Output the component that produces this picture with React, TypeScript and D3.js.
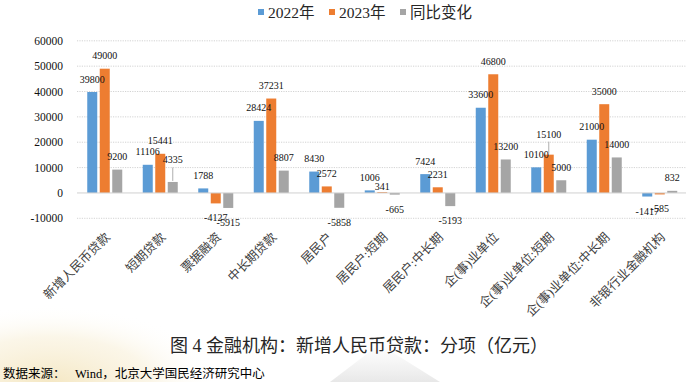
import React from "react";
import * as d3 from "d3";

const categories = [
  "新增人民币贷款",
  "短期贷款",
  "票据融资",
  "中长期贷款",
  "居民户",
  "居民户:短期",
  "居民户:中长期",
  "企(事)业单位",
  "企(事)业单位:短期",
  "企(事)业单位:中长期",
  "非银行业金融机构",
];
const seriesNames = ["2022年", "2023年", "同比变化"];
const values2022 = [39800, 11106, 1788, 28424, 8430, 1006, 7424, 33600, 10100, 21000, -1417];
const values2023 = [49000, 15441, -4127, 37231, 2572, 341, 2231, 46800, 15100, 35000, -585];
const valuesChange = [9200, 4335, -5915, 8807, -5858, -665, -5193, 13200, 5000, 14000, 832];
const yTicks = [-10000, 0, 10000, 20000, 30000, 40000, 50000, 60000];

// layout/styling (not data)
const W = 686;
const H = 382;
const COLORS = ["#5B9BD5", "#ED7D31", "#A5A5A5"];
const SERIF = "'Liberation Serif', 'DejaVu Serif', 'Noto Sans CJK SC', serif";
// manual label nudges (as in the source, some labels were dragged)
const NUDGE: Record<string, { dy: number; leader?: boolean }> = {
  "1-2": { dy: -9, leader: true },
  "5-1": { dy: 7.5 },
  "8-1": { dy: -7.5, leader: true },
};

export default function App() {
  const series = [values2022, values2023, valuesChange];
  const x = d3.scaleBand<string>().domain(categories).range([77, 687.5]).padding(0);
  const inner = d3
    .scaleBand<string>()
    .domain(seriesNames)
    .range([-17.5, 17.5])
    .paddingInner(0.2)
    .paddingOuter(0);
  const y = d3.scaleLinear().domain([-10000, 60000]).range([218.3, 40.8]);
  const y0 = y(0);

  const legendX = [258, 329, 400];

  return (
    <svg
      width={W}
      height={H}
      viewBox={`0 0 ${W} ${H}`}
      style={{ position: "absolute", left: 0, top: 0, background: "#fff" }}
    >
      <defs>
        <radialGradient id="wm" cx="0.5" cy="0.5" r="0.5">
          <stop offset="0%" stopColor="#f1dfae" stopOpacity={0.75} />
          <stop offset="60%" stopColor="#f6ebcc" stopOpacity={0.45} />
          <stop offset="100%" stopColor="#ffffff" stopOpacity={0} />
        </radialGradient>
        <linearGradient id="wm2" x1="0" y1="0" x2="0" y2="1">
          <stop offset="0%" stopColor="#e6e6e6" stopOpacity={0} />
          <stop offset="100%" stopColor="#d8d8d8" stopOpacity={0.6} />
        </linearGradient>
      </defs>
      <rect x={0} y={0} width={W} height={H} fill="#fff" />
      {/* faint background watermark */}
      <ellipse cx={50} cy={385} rx={170} ry={80} fill="url(#wm)" />
      <path d="M330,382 L372,350 L382,342 L392,352 L440,382 Z" fill="url(#wm2)" />

      {/* legend */}
      {seriesNames.map((s, i) => (
        <g key={s}>
          <rect x={legendX[i]} y={9} width={6} height={6} fill={COLORS[i]} />
          <text
            x={legendX[i] + 10}
            y={18}
            fontFamily={SERIF}
            fontSize={15.5}
            fill="#262626"
          >
            {s}
          </text>
        </g>
      ))}

      {/* gridlines */}
      {yTicks.map((t) => (
        <g key={t}>
          {t !== 0 && (
            <line
              x1={77}
              x2={686}
              y1={y(t)}
              y2={y(t)}
              stroke="#c8c8c8"
              strokeWidth={0.8}
              strokeDasharray="1.2 1.2"
            />
          )}
          <text
            x={63}
            y={y(t)}
            dy="0.35em"
            textAnchor="end"
            fontFamily={SERIF}
            fontSize={11.5}
            fill="#111"
          >
            {t}
          </text>
        </g>
      ))}

      {/* bars */}
      {categories.map((c, ci) => {
        const cx = (x(c) as number) + x.bandwidth() / 2;
        return (
          <g key={c}>
            {series.map((vals, si) => {
              const v = vals[ci];
              const bx = cx + (inner(seriesNames[si]) as number);
              const top = Math.min(y(v), y0);
              const h = Math.abs(y(v) - y0);
              return (
                <rect
                  key={si}
                  x={bx}
                  y={top}
                  width={inner.bandwidth()}
                  height={h}
                  fill={COLORS[si]}
                />
              );
            })}
          </g>
        );
      })}

      {/* zero line */}
      <line x1={77} x2={686} y1={y0} y2={y0} stroke="#d0d0d0" strokeWidth={1} />

      {/* data labels */}
      {categories.map((c, ci) => {
        const cx = (x(c) as number) + x.bandwidth() / 2;
        return series.map((vals, si) => {
          const v = vals[ci];
          const bc = cx + (inner(seriesNames[si]) as number) + inner.bandwidth() / 2;
          const nudge = NUDGE[`${ci}-${si}`];
          const base = v >= 0 ? y(v) - 13 : y(v) + 14.5;
          const ly = base + (nudge ? nudge.dy : 0);
          return (
            <g key={`${ci}-${si}`}>
              {nudge && nudge.leader && (
                <line
                  x1={bc}
                  x2={bc}
                  y1={ly + 7.5}
                  y2={y(v) - 1}
                  stroke="#a6a6a6"
                  strokeWidth={0.9}
                />
              )}
              <text
                x={bc}
                y={ly}
                dy="0.35em"
                textAnchor="middle"
                fontFamily={SERIF}
                fontSize={10}
                fill="#111"
              >
                {v}
              </text>
            </g>
          );
        });
      })}

      {/* category labels */}
      {categories.map((c) => {
        const cx = (x(c) as number) + x.bandwidth() / 2;
        const ax = cx + 6;
        const ay = 238;
        return (
          <text
            key={c}
            x={ax}
            y={ay}
            textAnchor="end"
            transform={`rotate(-45 ${ax} ${ay})`}
            fontFamily={SERIF}
            fontSize={12.5}
            fill="#404040"
          >
            {c}
          </text>
        );
      })}

      {/* title */}
      <text x={170} y={352} fontFamily={SERIF} fontSize={18} fill="#262626" xmlSpace="preserve">
        图 4 金融机构：新增人民币贷款：分项（亿元）
      </text>
      {/* source */}
      <text x={3} y={378} fontFamily={SERIF} fontSize={12.5} fill="#000">
        <tspan>数据来源：</tspan>
        <tspan x={75}>Wind，北京大学国民经济研究中心</tspan>
      </text>
    </svg>
  );
}
